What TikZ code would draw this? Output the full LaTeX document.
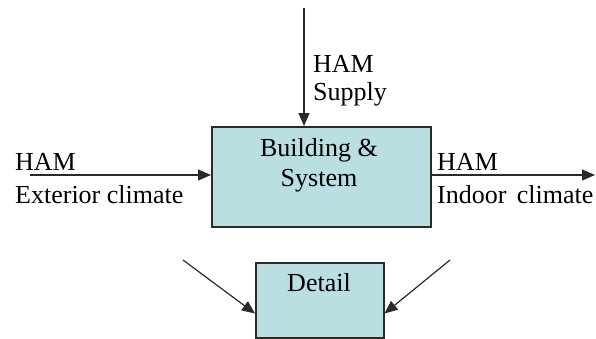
\documentclass[tikz,border=0pt]{standalone}
\usepackage{fontspec}
\setmainfont{Liberation Serif}
\usetikzlibrary{arrows.meta}
\definecolor{boxfill}{HTML}{B9DFE3}
\definecolor{boxline}{HTML}{2A2A2A}
\tikzset{
  block/.style={draw=boxline, line width=1.5bp, fill=boxfill, inner sep=0pt, anchor=north west},
  flow/.style={draw=boxline, line width=1.2bp, -{Triangle[length=13bp,width=11bp]}},
  lbl/.style={inner sep=0pt, anchor=base west, font=\fontsize{26bp}{30bp}\selectfont},
  ctr/.style={lbl, anchor=base},
}
\begin{document}
\begin{tikzpicture}[x=1bp,y=-1bp]
\useasboundingbox (0,0) rectangle (596,338);

% main block and detail block
\node[block, minimum width=219bp, minimum height=100bp] (bs) at (211,126) {};
\node[block, minimum width=128bp, minimum height=75bp] (det) at (255,262) {};
\node[ctr] (bsA) at (319,156) {Building \&};
\node[ctr] (bsB) at (319,186) {System};
\node[ctr] (detT) at (319,291) {Detail};

% free ends of the connectors
\coordinate (supTop) at (304,8);
\coordinate (extL) at (30,175);
\coordinate (indR) at (595,175);
\coordinate (dL) at (183,260);
\coordinate (dR) at (450,260);

% connectors
\draw[flow] (supTop) -- (supTop |- bs.north);
\draw[flow] (extL) -- (extL -| bs.west);
\draw[flow] (extL -| bs.east) -- (indR);
\draw[flow] (dL) -- ([yshift=25bp]det.south west);
\draw[flow] (dR) -- ([yshift=25bp]det.south east);

% labels
\node[lbl] (supA) at (313,72) {HAM};
\node[lbl] (supB) at (313,100) {Supply};
\node[lbl] (extA) at (15,170) {HAM};
\node[lbl] (extB) at (15,203) {Exterior climate};
\node[lbl] (indA) at (437,170) {HAM};
\node[lbl] (indB) at (437,203) {Indoor\hspace{0.4em}climate};
\end{tikzpicture}
\end{document}
